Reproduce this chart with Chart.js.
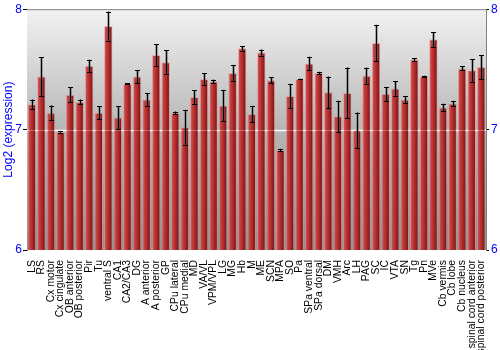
<!DOCTYPE html>
<html>
<head>
<meta charset="utf-8">
<script src="https://cdn.jsdelivr.net/npm/chart.js@4.4.0/dist/chart.umd.min.js"></script>
<style>
	body { margin: 0; background: #fff; }
	canvas { display: block; }
</style>
</head>
<body>
<canvas id="chart" width="500" height="350"></canvas>
<script>
const regions = ["LS", "RS", "Cx motor", "Cx cingulate", "OB anterior", "OB posterior", "Pir", "Tu",
	"ventral S", "CA1", "CA2/CA3", "DG", "A anterior", "A posterior", "GP", "CPu lateral", "CPu medial",
	"MD", "VA/VL", "VPM/VPL", "LG", "MG", "Hb", "M", "ME", "SCN", "MPA", "SO", "Pa", "SPa ventral",
	"SPa dorsal", "DM", "VMH", "Arc", "LH", "PAG", "SC", "IC", "VTA", "SN", "Tg", "Pn", "MVe",
	"Cb vermis", "Cb lobe", "Cb nucleus", "spinal cord anterior", "spinal cord posterior"];

const expression = [7.21, 7.44, 7.14, 6.98, 7.29, 7.23, 7.53, 7.14,
	7.86, 7.10, 7.38, 7.44, 7.25, 7.62, 7.56, 7.14, 7.02,
	7.27, 7.42, 7.40, 7.20, 7.47, 7.675, 7.13, 7.64, 7.41, 6.83, 7.28, 7.42, 7.55,
	7.47, 7.31, 7.11, 7.305, 6.995, 7.447, 7.72, 7.297, 7.342, 7.25, 7.583, 7.442, 7.75,
	7.183, 7.217, 7.508, 7.492, 7.52];

const errors = [0.04, 0.16, 0.06, 0.005, 0.06, 0.02, 0.05, 0.055,
	0.12, 0.095, 0.003, 0.055, 0.05, 0.09, 0.1, 0.01, 0.144,
	0.057, 0.047, 0.015, 0.13, 0.067, 0.02, 0.067, 0.025, 0.024, 0.01, 0.1, 0.003, 0.055,
	0.01, 0.13, 0.13, 0.21, 0.147, 0.067, 0.15, 0.057, 0.061, 0.028, 0.01, 0.005, 0.06,
	0.032, 0.022, 0.017, 0.093, 0.1];

const yTicks = [6, 7, 8];

const barPct = 0.9;

function barFill(ctx) {
	const chart = ctx.chart;
	const area = chart.chartArea;
	if (!area || !chart.scales.x) {
		return "#b03030";
	}
	const x = chart.scales.x.getPixelForValue(ctx.dataIndex);
	const half = (area.right - area.left) / regions.length * barPct / 2;
	const g = chart.ctx.createLinearGradient(x - half, 0, x + half, 0);
	g.addColorStop(0, "#d86a6a");
	g.addColorStop(0.25, "#c84040");
	g.addColorStop(0.55, "#ae2a2a");
	g.addColorStop(1, "#6e1010");
	return g;
}

// gray gradient behind the bars, white line at 7 and the top frame line
const backdrop = {
	id: "backdrop",
	beforeDatasetsDraw(chart) {
		const c = chart.ctx;
		const a = chart.chartArea;
		const g = c.createLinearGradient(0, a.top, 0, a.bottom);
		g.addColorStop(0, "#f2f2f2");
		g.addColorStop(0.5, "#b6b6b6");
		g.addColorStop(1, "#909090");
		c.save();
		c.fillStyle = g;
		c.fillRect(a.left, a.top, a.right - a.left, a.bottom - a.top);
		const y7 = Math.round(chart.scales.y.getPixelForValue(7)) + 0.5;
		c.strokeStyle = "#ffffff";
		c.lineWidth = 1.5;
		c.beginPath();
		c.moveTo(a.left, y7);
		c.lineTo(a.right, y7);
		c.stroke();
		c.restore();
	},
	afterDatasetsDraw(chart) {
		const c = chart.ctx;
		const a = chart.chartArea;
		const y7 = Math.round(chart.scales.y.getPixelForValue(7)) + 0.5;
		c.save();
		c.strokeStyle = "rgba(255,255,255,0.3)";
		c.lineWidth = 1;
		c.beginPath();
		c.moveTo(a.left, y7);
		c.lineTo(a.right, y7);
		c.stroke();
		c.strokeStyle = "#808080";
		c.lineWidth = 1;
		c.beginPath();
		c.moveTo(a.left, a.top + 0.5);
		c.lineTo(a.right, a.top + 0.5);
		c.stroke();
		c.restore();
	}
};

const errorBars = {
	id: "errorBars",
	afterDatasetsDraw(chart) {
		const c = chart.ctx;
		const y = chart.scales.y;
		const bars = chart.getDatasetMeta(0).data;
		c.save();
		bars.forEach(function(bar, i) {
			const x = Math.round(bar.x) + 0.5;
			const top = y.getPixelForValue(expression[i] + errors[i]);
			const bottom = y.getPixelForValue(expression[i] - errors[i]);
			c.strokeStyle = "rgba(90,90,90,0.45)";
			c.lineWidth = 3;
			c.beginPath();
			c.moveTo(x, top);
			c.lineTo(x, bottom);
			c.stroke();
			c.strokeStyle = "#000000";
			c.lineWidth = 1;
			c.beginPath();
			c.moveTo(x, top);
			c.lineTo(x, bottom);
			c.moveTo(x - 2.5, Math.round(top) + 0.5);
			c.lineTo(x + 2.5, Math.round(top) + 0.5);
			c.moveTo(x - 2.5, Math.round(bottom) + 0.5);
			c.lineTo(x + 2.5, Math.round(bottom) + 0.5);
			c.stroke();
		});
		c.restore();
	}
};

const tickFont = { family: "'Liberation Sans', Arial, sans-serif", size: 12 };

const config = {
	type: "bar",
	data: {
		labels: regions,
		datasets: [
			{
				data: expression,
				backgroundColor: barFill,
				borderColor: "rgba(235,140,140,0.55)",
				borderWidth: 1,
				borderSkipped: false,
				barPercentage: barPct,
				categoryPercentage: 1.0,
			},
		],
	},
	options: {
		responsive: false,
		maintainAspectRatio: false,
		animation: false,
		layout: {
			padding: { top: 9, left: 0, right: 0, bottom: 0 },
		},
		plugins: {
			legend: { display: false },
			tooltip: { enabled: false },
		},
		scales: {
			x: {
				grid: { display: false },
				border: { display: false },
				ticks: {
					autoSkip: false,
					minRotation: 90,
					maxRotation: 90,
					padding: 2,
					color: "#000000",
					font: { family: "'Liberation Sans', Arial, sans-serif", size: 10.4 },
				},
				afterFit: function(scale) {
					scale.height = 100;
				},
			},
			y: {
				position: "left",
				min: 6,
				max: 8,
				afterBuildTicks: function(scale) {
					scale.ticks = yTicks.map(function(v) { return { value: v }; });
				},
				grid: {
					drawOnChartArea: false,
					tickLength: 4,
					tickColor: "#000000",
				},
				border: { color: "#808080" },
				ticks: {
					padding: 1,
					color: "#0000ff",
					font: tickFont,
				},
				title: {
					display: true,
					text: "Log2 (expression)",
					color: "#0000ff",
					font: { family: "'Liberation Sans', Arial, sans-serif", size: 12 },
					padding: { top: 1, bottom: 0 },
				},
				afterFit: function(scale) {
					scale.width = 27;
				},
			},
			y2: {
				position: "right",
				min: 6,
				max: 8,
				afterBuildTicks: function(scale) {
					scale.ticks = yTicks.map(function(v) { return { value: v }; });
				},
				grid: {
					drawOnChartArea: false,
					tickLength: 3,
					tickColor: "#000000",
				},
				border: { color: "#808080" },
				ticks: {
					padding: 2,
					color: "#0000ff",
					font: tickFont,
				},
				afterFit: function(scale) {
					scale.width = 14;
				},
			},
		},
	},
	plugins: [backdrop, errorBars],
};

new Chart(document.getElementById("chart").getContext("2d"), config);
</script>
</body>
</html>
